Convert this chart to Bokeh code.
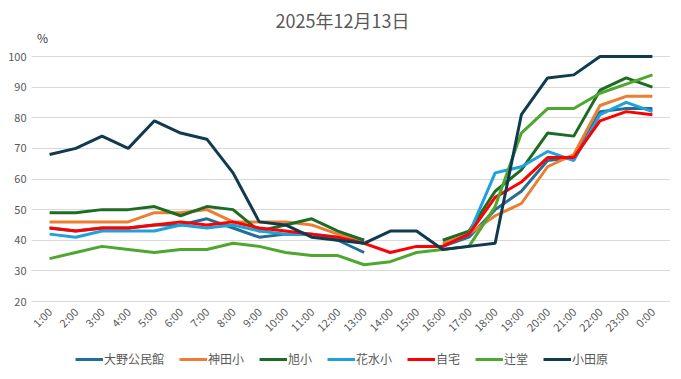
import math
from bokeh.plotting import figure
from bokeh.models import FixedTicker, Legend, LegendItem, Label, Range1d, FactorRange
from bokeh.embed import file_html
from bokeh.resources import INLINE

nan = float("nan")

hours = ["1:00", "2:00", "3:00", "4:00", "5:00", "6:00", "7:00", "8:00", "9:00", "10:00",
         "11:00", "12:00", "13:00", "14:00", "15:00", "16:00", "17:00", "18:00", "19:00",
         "20:00", "21:00", "22:00", "23:00", "0:00"]

ono = [44, 43, 44, 44, 45, 45, 47, 44, 41, 42, 42, 40, 36, nan, nan, 38, 41, 50, 56, 66, 67, 82, 83, 83]
kanda = [46, 46, 46, 46, 49, 49, 50, 46, 46, 46, 45, 42, 40, nan, nan, 39, 42, 48, 52, 64, 68, 84, 87, 87]
asahi = [49, 49, 50, 50, 51, 48, 51, 50, 43, 45, 47, 43, 40, nan, nan, 40, 43, 56, 63, 75, 74, 89, 93, 90]
hanamizu = [42, 41, 43, 43, 43, 45, 44, 45, 43, 42, 42, 41, 39, nan, nan, 38, 42, 62, 64, 69, 66, 81, 85, 82]
jitaku = [44, 43, 44, 44, 45, 46, 45, 46, 44, 43, 42, 41, 39, 36, 38, 38, 42, 54, 59, 67, 67, 79, 82, 81]
tsujido = [34, 36, 38, 37, 36, 37, 37, 39, 38, 36, 35, 35, 32, 33, 36, 37, 38, 51, 75, 83, 83, 88, 91, 94]
odawara = [68, 70, 74, 70, 79, 75, 73, 62, 46, 45, 41, 40, 39, 43, 43, 37, 38, 39, 81, 93, 94, 100, 100, 100]

series_names = ["大野公民館", "神田小", "旭小", "花水小", "自宅", "辻堂", "小田原"]
series_values = [ono, kanda, asahi, hanamizu, jitaku, tsujido, odawara]
series_colors = ["#236e96", "#ed7d31", "#1e6b24", "#1ea1dc", "#ff0000", "#4ea72e", "#0f3a4f"]

y_ticks = [20, 30, 40, 50, 60, 70, 80, 90, 100]
y_min, y_max = 20, 100
title_text = "2025年12月13日"
unit_text = "%"

FONT = "Noto Sans CJK JP"
GRAY = "#595959"

# the 20..100 band is 245 px tall; the frame is extended above (title, unit)
# and below (rotated hour labels, legend) so that every text sits inside it
band_px = 245
top_px = 56
bottom_px = 70
frame_h = top_px + band_px + bottom_px
per_px = (y_max - y_min) / band_px
y_bottom = y_min - bottom_px * per_px
y_top = y_max + top_px * per_px

p = figure(frame_width=639, frame_height=frame_h,
           x_range=FactorRange(*hours, range_padding=0.19, range_padding_units="absolute"),
           y_range=Range1d(y_bottom, y_top),
           output_backend="svg", toolbar_location=None,
           min_border_left=31, min_border_right=0, min_border_top=0, min_border_bottom=0)
p.outline_line_color = None
p.background_fill_color = "white"
p.border_fill_color = "white"

p.xgrid.grid_line_color = None
p.ygrid.grid_line_color = "#d9d9d9"
p.ygrid.grid_line_width = 1
p.yaxis.ticker = FixedTicker(ticks=y_ticks)
p.xaxis.fixed_location = y_min

for ax in (p.xaxis[0], p.yaxis[0]):
    ax.axis_line_color = None
    ax.major_tick_line_color = None
    ax.minor_tick_line_color = None
    ax.major_tick_out = 0
    ax.major_tick_in = 0
    ax.minor_tick_out = 0
    ax.minor_tick_in = 0
    ax.major_label_text_color = GRAY
    ax.major_label_text_font = FONT
    ax.major_label_text_font_size = "11px"
p.yaxis.major_label_standoff = 5
p.xaxis.major_label_orientation = math.pi / 4
p.xaxis.major_label_standoff = 8

items = []
for name, vals, col in zip(series_names, series_values, series_colors):
    r = p.line(x=hours, y=vals, line_color=col, line_width=3)
    items.append(LegendItem(label=name, renderers=[r]))

legend = Legend(items=items, orientation="horizontal", location=(44, 4),
                label_text_font=FONT, label_text_font_size="12px", label_text_color=GRAY,
                glyph_width=28, glyph_height=14, label_height=14, label_standoff=1, spacing=15,
                border_line_color=None, padding=0, margin=0, background_fill_alpha=0)
p.add_layout(legend, "center")

title = Label(x=311, y=frame_h - 19, x_units="screen", y_units="screen", text=title_text,
              text_font=FONT, text_font_size="18px", text_color=GRAY,
              text_align="center", text_baseline="middle")
p.add_layout(title)

pct = Label(x=11, y=frame_h - 37, x_units="screen", y_units="screen", text=unit_text,
            text_font=FONT, text_font_size="12px", text_color="#404040",
            text_align="center", text_baseline="middle")
p.add_layout(pct)

open("out.html", "w").write(file_html(p, INLINE))
